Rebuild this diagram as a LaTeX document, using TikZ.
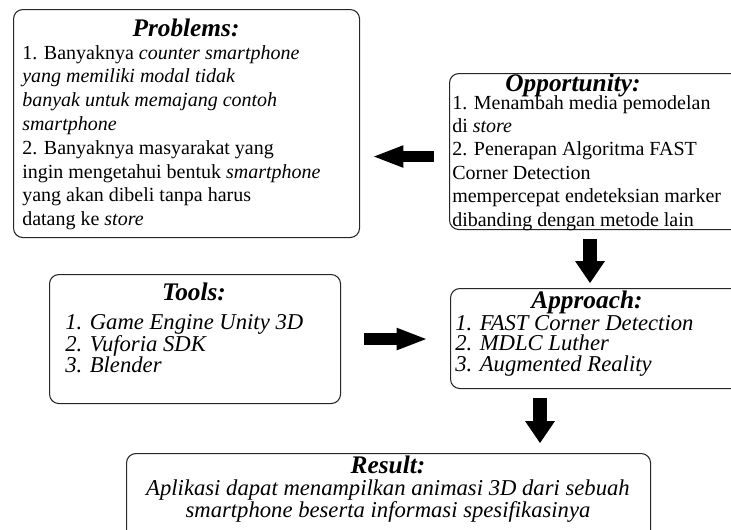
\documentclass[tikz,border=0pt]{standalone}
\usepackage{fontspec}
\setmainfont{Liberation Serif}
\usetikzlibrary{arrows.meta}
\tikzset{
  panel/.style={draw=black!85, line width=0.8pt, rounded corners=7pt, anchor=north west, inner sep=0pt},
  heading/.style={font=\fontsize{19}{22}\selectfont\bfseries\itshape},
  plaintext/.style={anchor=north west, align=left, inner sep=0pt, font=\fontsize{15}{17.85}\selectfont},
  slanttext/.style={anchor=north west, align=left, inner sep=0pt, font=\fontsize{17}{15.5}\selectfont\itshape},
  harrow/.style={line width=8.5pt, -{Triangle[length=22pt,width=17pt,line width=0pt]}},
  varrow/.style={line width=10.5pt, -{Triangle[length=16.5pt,width=22.5pt,line width=0pt]}},
}
\begin{document}
\begin{tikzpicture}[x=0.75pt,y=-0.75pt]
\useasboundingbox (0,0) rectangle (731,529);
% boxes
\node[panel, minimum width=259.5pt, minimum height=171pt] (prob) at (13,9) {};
\node[panel, minimum width=262.5pt, minimum height=117pt] (opp) at (449,73) {};
\node[panel, minimum width=218.25pt, minimum height=96.75pt] (tools) at (49,274) {};
\node[panel, minimum width=262.5pt, minimum height=75pt] (appr) at (450,288) {};
\node[panel, minimum width=393pt, minimum height=90pt] (res) at (126,453) {};
% texts
\node[heading] (probhead) at (186,28) {Problems:};
\node[plaintext] (probtext) at (22,45) {1. Banyaknya \textit{counter smartphone}\\
  \textit{yang memiliki modal tidak}\\
  \textit{banyak untuk memajang contoh}\\
  \textit{smartphone}\\
  2. Banyaknya masyarakat yang\\
  ingin mengetahui bentuk \textit{smartphone}\\
  yang akan dibeli tanpa harus\\
  datang ke \textit{store}};
\node[heading] (opphead) at (573,85) {Opportunity:};
\node[plaintext, font=\fontsize{15}{17.55}\selectfont] (opptext) at (452,95) {1. Menambah media pemodelan\\
  di \textit{store}\\
  2. Penerapan Algoritma FAST\\
  Corner Detection\\
  mempercepat endeteksian marker\\
  dibanding dengan metode lain};
\node[heading] (toolhead) at (194,292) {Tools:};
\node[slanttext] (tooltext) at (65,314) {1. Game Engine Unity 3D\\
  2. Vuforia SDK\\
  3. Blender};
\node[heading] (apprhead) at (587,302) {Approach:};
\node[slanttext] (apprtext) at (455,315) {1. FAST Corner Detection\\
  2. MDLC Luther\\
  3. Augmented Reality};
\node[heading] (reshead) at (388,465) {Result:};
\node[slanttext, anchor=north, align=center] (restext) at (388,479) {Aplikasi dapat menampilkan animasi 3D dari sebuah\\
  smartphone beserta informasi spesifikasinya};
% arrows
\coordinate (oppin) at ([yshift=-3.75pt]opp.west);
\draw[harrow, shorten <=11.25pt, shorten >=10.5pt] (oppin) -- (oppin -| prob.east);
\draw[varrow, shorten <=6.75pt, shorten >=3.75pt] (opp.south -| 590,0) -- (appr.north -| 590,0);
\draw[harrow, shorten <=17.25pt, shorten >=18pt] (tools.east) -- (tools.east -| appr.west);
\draw[varrow, shorten <=6.75pt, shorten >=7.5pt] (appr.south -| 540,0) -- (res.north -| 540,0);
\end{tikzpicture}
\end{document}
